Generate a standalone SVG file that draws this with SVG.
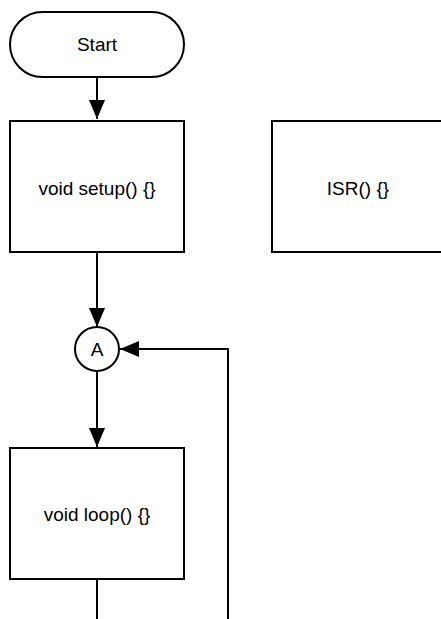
<svg xmlns="http://www.w3.org/2000/svg" width="441" height="619" viewBox="0 0 441 619">
<style>
.shape{fill:#fff;stroke:#000;stroke-width:2}
.lbl{font-family:"Liberation Sans",Arial,sans-serif;font-size:19px;fill:#000;text-anchor:middle;dominant-baseline:central}
.edge{fill:none;stroke:#000;stroke-width:2}
</style>
<defs>
<marker id="arr" markerUnits="userSpaceOnUse" markerWidth="22" markerHeight="18" refX="19" refY="8" orient="auto">
<path d="M0,0 L19,8 L0,16 Z" fill="#000"/>
</marker>
</defs>
<rect width="441" height="619" fill="#fff"/>
<g id="edges">
<path class="edge" d="M97,77 V119" marker-end="url(#arr)"/>
<path class="edge" d="M97,252 V327" marker-end="url(#arr)"/>
<path class="edge" d="M97,372 V447" marker-end="url(#arr)"/>
<path class="edge" d="M97,579 V619"/>
<path class="edge" d="M228,619 V349 H120" marker-end="url(#arr)"/>
</g>
<g id="start">
<rect class="shape" x="10" y="12" width="174" height="65" rx="32.5"/>
<text class="lbl" x="97" y="44">Start</text>
</g>
<g id="setup">
<rect class="shape" x="10" y="121" width="174" height="131"/>
<text class="lbl" x="97" y="188">void setup() {}</text>
</g>
<g id="isr">
<rect class="shape" x="272" y="121" width="174" height="131"/>
<text class="lbl" x="358" y="188">ISR() {}</text>
</g>
<g id="connA">
<circle class="shape" cx="97" cy="349" r="22"/>
<text class="lbl" x="97" y="349">A</text>
</g>
<g id="loop">
<rect class="shape" x="10" y="448" width="174" height="131"/>
<text class="lbl" x="97" y="514">void loop() {}</text>
</g>
</svg>
